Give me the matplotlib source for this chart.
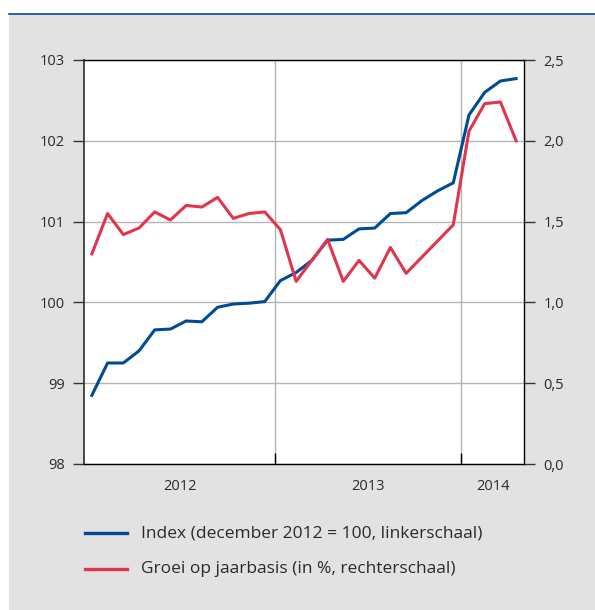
import numpy as np
import matplotlib
matplotlib.use('Agg')
import matplotlib.pyplot as plt
from matplotlib.lines import Line2D
from matplotlib.patches import Rectangle

plt.rcParams['font.family'] = ['Open Sans', 'DejaVu Sans']

# maanden jan 2012 - apr 2014
months = ['jan 12', 'feb 12', 'mrt 12', 'apr 12', 'mei 12', 'jun 12', 'jul 12', 'aug 12',
          'sep 12', 'okt 12', 'nov 12', 'dec 12',
          'jan 13', 'feb 13', 'mrt 13', 'apr 13', 'mei 13', 'jun 13', 'jul 13', 'aug 13',
          'sep 13', 'okt 13', 'nov 13', 'dec 13',
          'jan 14', 'feb 14', 'mrt 14', 'apr 14']
index_vals = [98.85, 99.25, 99.25, 99.40, 99.66, 99.67, 99.77, 99.76, 99.94, 99.98, 99.99, 100.01,
              100.27, 100.37, 100.52, 100.77, 100.78, 100.91, 100.92, 101.10, 101.11, 101.26, 101.38, 101.48,
              102.32, 102.60, 102.74, 102.77]
groei = [1.30, 1.55, 1.42, 1.46, 1.56, 1.51, 1.60, 1.59, 1.65, 1.52, 1.55, 1.56,
         1.45, 1.13, 1.26, 1.39, 1.13, 1.26, 1.15, 1.34, 1.18, 1.28, 1.38, 1.48,
         2.06, 2.23, 2.24, 2.00]
years = ['2012', '2013', '2014']
year_breaks = [11.67, 23.5]
left_ticks = [98, 99, 100, 101, 102, 103]
right_ticks = [0.0, 0.5, 1.0, 1.5, 2.0, 2.5]

blue = '#004b93'
red = '#e0354d'
bg = '#e2e2e2'
gridc = '#b4b4b4'
txtc = '#2a2a2a'

x = np.arange(len(months))

fig = plt.figure(figsize=(5.95, 6.10), dpi=100)
fig.patch.set_facecolor('white')
# grijze achtergrond + blauwe lijn bovenaan
fig.patches.append(Rectangle((9 / 595, 0), 1, (610 - 14) / 610, transform=fig.transFigure,
                             facecolor=bg, edgecolor='none', zorder=-10))
fig.lines.append(Line2D([9 / 595, 1], [(610 - 13.5) / 610] * 2, transform=fig.transFigure,
                        color=blue, linewidth=1.2))

ax = fig.add_axes([84 / 595, 146 / 610, 440 / 595, 404 / 610])
ax.set_facecolor('white')
ax.plot(x, index_vals, color=blue, linewidth=2.2, zorder=3)
ax.set_xlim(-0.5, 27.5)
ax.set_ylim(98, 103)
ax.set_yticks(left_ticks)
ax.set_yticklabels([str(t) for t in left_ticks])
ax.yaxis.grid(True, color=gridc, linewidth=1.0)
ax.set_axisbelow(True)

ax.set_xticks(year_breaks)
ax.set_xticklabels(['', ''])
ax.xaxis.grid(True, color=gridc, linewidth=1.0)
ax.tick_params(axis='x', which='major', direction='in', length=8, width=1.0, color='black')
centers = [(-0.5 + year_breaks[0]) / 2, (year_breaks[0] + year_breaks[1]) / 2, (year_breaks[1] + 27.5) / 2]
ax.set_xticks(centers, minor=True)
ax.set_xticklabels(years, minor=True)
ax.tick_params(axis='x', which='minor', length=0, pad=11, labelsize=10.5, labelcolor=txtc)
ax.tick_params(axis='y', direction='out', length=8, width=1.0, pad=6, labelsize=10.5,
               labelcolor=txtc, color='#333333')

for s in ['top', 'bottom', 'right']:
    ax.spines[s].set_color('black')
    ax.spines[s].set_linewidth(1.0)
ax.spines['left'].set_color('#3a3a3a')
ax.spines['left'].set_linewidth(1.3)

ax2 = ax.twinx()
ax2.plot(x, groei, color=red, linewidth=2.2, zorder=3)
ax2.set_ylim(0, 2.5)
ax2.set_yticks(right_ticks)
ax2.set_yticklabels([f'{t:.1f}'.replace('.', ',') for t in right_ticks])
ax2.tick_params(axis='y', direction='out', length=8, width=1.0, pad=6, labelsize=10.5,
                labelcolor=txtc, color='#333333')
for s in ['top', 'bottom', 'left', 'right']:
    ax2.spines[s].set_visible(False)

# legenda
labels = ['Index (december 2012 = 100, linkerschaal)', 'Groei op jaarbasis (in %, rechterschaal)']
colors = [blue, red]
rows = [533, 569]
for lab, c, r in zip(labels, colors, rows):
    yy = (610 - r) / 610
    fig.lines.append(Line2D([85 / 595, 127 / 595], [yy, yy], transform=fig.transFigure,
                            color=c, linewidth=2.4))
    fig.text(141 / 595, yy, lab, fontsize=12.5, color=txtc, va='center', ha='left')

fig.savefig('out.png', dpi=100, facecolor=fig.get_facecolor())
